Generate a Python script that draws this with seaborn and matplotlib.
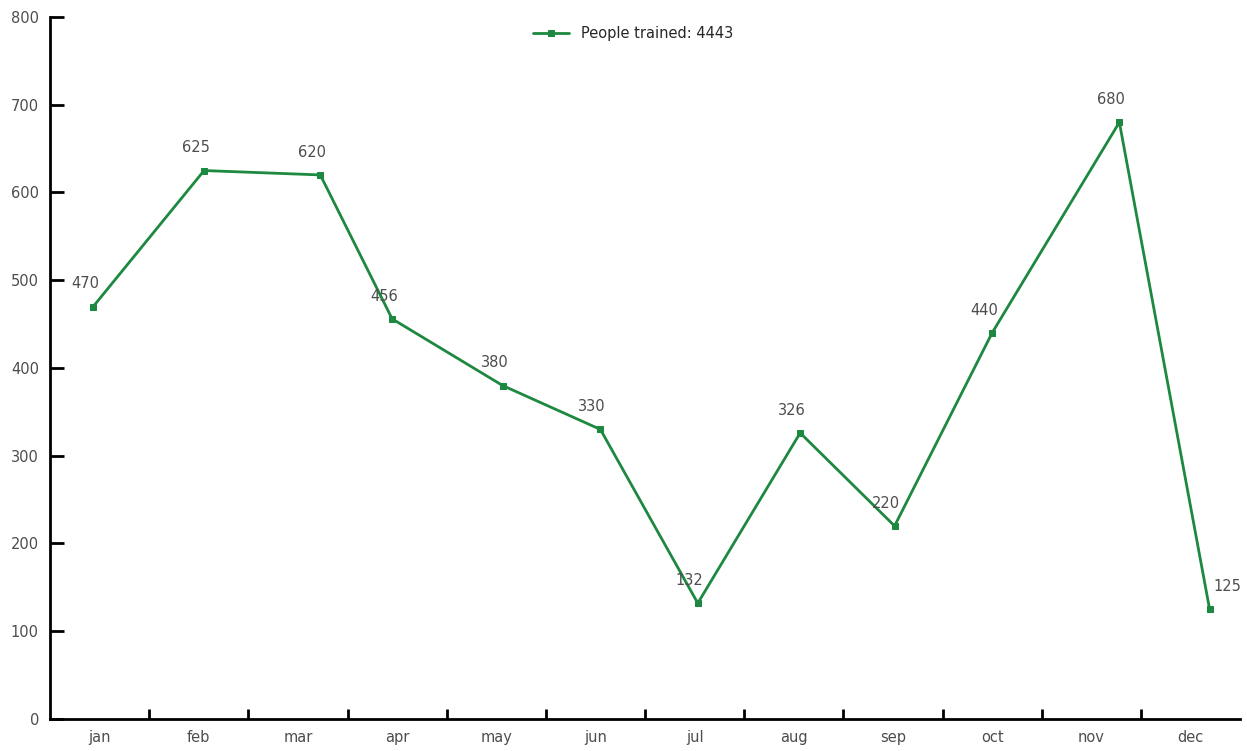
import calendar
import matplotlib
matplotlib.use("Agg")
import matplotlib.pyplot as plt
import numpy as np
import pandas as pd
import seaborn as sns

months = ["jan", "feb", "mar", "apr", "may", "jun",
          "jul", "aug", "sep", "oct", "nov", "dec"]
session_day = [14, 16, 23, 14, 18, 17, 17, 18, 16, 16, 24, 22]
people_trained = [470, 625, 620, 456, 380, 330, 132, 326, 220, 440, 680, 125]
legend_label = "People trained: 4443"
y_ticks = [0, 100, 200, 300, 400, 500, 600, 700, 800]

# position of each session inside its month band on the axis
days_in_month = [calendar.monthrange(2023, m + 1)[1] for m in range(12)]
pos = [i + (d - 0.5) / n for i, (d, n) in enumerate(zip(session_day, days_in_month))]
df = pd.DataFrame({"pos": pos, "people": people_trained, "month": months})

sns.set_theme(style="white")
plt.rcParams["font.family"] = ["DejaVu Sans"]

line_green = "#1d8840"
text_grey = "#4d4d4d"

fig = plt.figure(figsize=(12.47, 7.51), dpi=100)
ax = fig.add_axes([0.0401, 0.0426, 0.9543, 0.9348])

sns.lineplot(data=df, x="pos", y="people", ax=ax, color=line_green,
             linewidth=2.0, marker="s", markersize=5,
             markeredgecolor=line_green, label=legend_label)

for i, (x, y) in enumerate(zip(pos, people_trained)):
    dx, ha = (-6, "center") if i < len(pos) - 1 else (3, "left")
    ax.annotate(str(y), (x, y), xytext=(dx, 11), textcoords="offset points",
                ha=ha, va="bottom", fontsize=10.5, color=text_grey)

ax.set_xlim(0, 12)
ax.set_ylim(0, 800)
ax.set_yticks(y_ticks)
ax.set_yticklabels([str(t) for t in y_ticks])
ax.set_xticks(np.arange(1, 12), minor=True)
ax.set_xticks(np.arange(12) + 0.5)
ax.set_xticklabels(months)
ax.tick_params(axis="x", which="major", length=0, pad=8,
               labelsize=10.5, labelcolor=text_grey)
ax.tick_params(axis="x", which="minor", direction="in", length=7,
               width=2, color="black", bottom=True)
ax.tick_params(axis="y", direction="in", length=10, width=2, color="black",
               left=True, pad=8, labelsize=10.5, labelcolor=text_grey)

ax.set_xlabel("")
ax.set_ylabel("")
ax.grid(False)
for side in ["top", "right"]:
    ax.spines[side].set_visible(False)
for side in ["left", "bottom"]:
    ax.spines[side].set_color("black")
    ax.spines[side].set_linewidth(2)

ax.legend(loc="upper center", bbox_to_anchor=(0.49, 1.0), frameon=False,
          fontsize=10.5, handlelength=2.5, borderaxespad=0.2)

fig.savefig("out.png", dpi=100, facecolor="white")
